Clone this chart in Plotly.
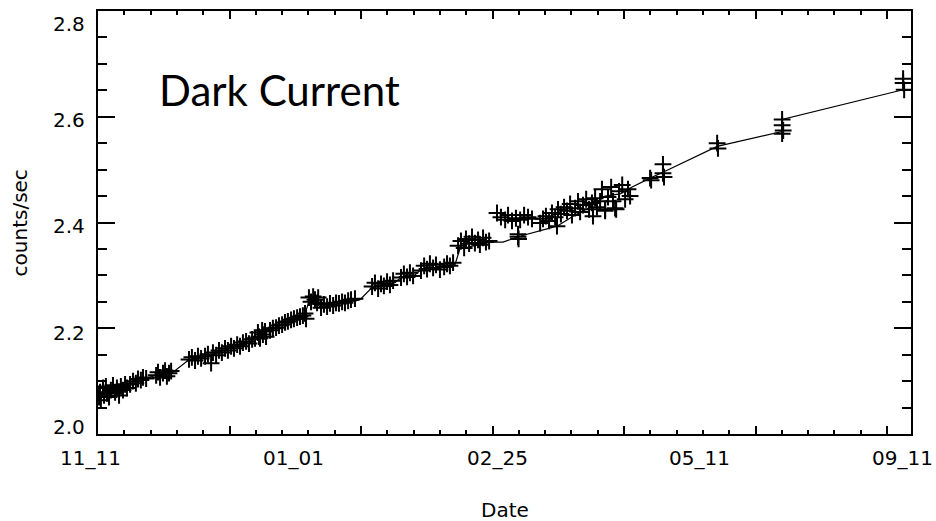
import plotly.graph_objects as go

# ---- data (x: time index along the date axis, y: counts/sec) ----
meas_x = [
    0.4, 0.8, 1.1, 1.9, 2.3, 3.0, 3.4, 4.2, 4.9, 5.7, 6.5, 7.2, 8.0, 8.7, 9.5, 10.3, 11.0,
    12.2, 13.3, 14.4, 15.2, 16.3, 17.1, 18.3,
    22.1, 22.8, 23.6, 24.7, 25.5, 26.2, 27.0, 27.8,
    34.6, 35.7, 36.9, 38.0, 39.2,
    40.7, 41.8, 43.0, 43.7, 44.9, 46.0, 47.1, 48.3, 49.4, 50.6, 51.7, 52.9, 54.0, 55.1, 56.3, 57.4, 58.6, 59.7,
    60.8, 61.2, 61.6, 62.4, 62.7, 63.5, 63.9,
    65.4, 66.5, 67.7, 68.8, 70.0, 71.1, 72.2, 73.4, 74.5, 75.7, 76.8, 77.9, 78.7, 79.1,
    80.2, 81.0, 81.8, 82.5, 83.3, 83.7,
    84.8, 85.9, 87.1, 88.2, 89.4, 90.5, 91.6, 92.8, 93.9, 95.1, 96.2, 97.7,
    104.2, 105.3, 106.5, 107.6, 108.7, 109.9, 111.0, 112.2,
    115.2, 116.3, 117.5, 118.6, 119.8,
    122.8, 124.0, 125.1, 126.2, 127.4, 128.5, 130.0, 131.6, 132.7, 133.8, 135.0,
    136.9, 138.0, 139.2, 139.9, 141.1, 142.2, 143.3, 144.5, 145.2, 146.4, 147.5, 148.7,
    151.7, 153.2, 154.8, 155.9, 157.4, 158.9, 160.5, 162.0, 163.5, 165.0,
    159.7, 159.7, 159.9,
    168.1, 169.2, 170.3, 171.5, 172.6, 173.8, 174.5, 174.9, 176.0, 177.2, 178.3, 179.5, 180.2,
    181.4, 182.5, 183.3, 184.4, 185.6, 186.7, 187.8, 189.0, 189.7, 190.9, 188.2, 192.8, 196.6,
    191.6, 192.8, 193.9, 195.1, 195.8, 197.0, 198.1, 199.3, 200.4, 201.5, 202.3,
    209.9, 210.3,
    214.8, 214.8, 215.2,
    235.4, 235.7,
    260.1, 260.1, 260.5, 260.1,
    306.1, 306.1, 306.5,
]
meas_y = [
    2.070, 2.079, 2.064, 2.087, 2.073, 2.090, 2.077, 2.070, 2.083, 2.092, 2.079, 2.087, 2.073, 2.090, 2.083, 2.094, 2.087,
    2.094, 2.100, 2.096, 2.104, 2.102, 2.107, 2.105,
    2.111, 2.117, 2.107, 2.115, 2.120, 2.109, 2.115, 2.119,
    2.141, 2.145, 2.139, 2.147, 2.143,
    2.147, 2.151, 2.134, 2.154, 2.149, 2.158, 2.154, 2.162, 2.158, 2.166, 2.162, 2.169, 2.166, 2.173, 2.175, 2.171, 2.179, 2.181,
    2.192, 2.184, 2.181, 2.196, 2.188, 2.194, 2.184,
    2.196, 2.200, 2.201, 2.205, 2.207, 2.211, 2.213, 2.216, 2.218, 2.220, 2.222, 2.224, 2.228, 2.218,
    2.258, 2.250, 2.260, 2.254, 2.248, 2.258,
    2.239, 2.245, 2.241, 2.247, 2.243, 2.248, 2.247, 2.250, 2.248, 2.252, 2.254, 2.256,
    2.279, 2.286, 2.275, 2.284, 2.280, 2.288, 2.282, 2.290,
    2.296, 2.303, 2.297, 2.305, 2.299,
    2.309, 2.318, 2.312, 2.322, 2.314, 2.320, 2.311, 2.316, 2.322, 2.318, 2.324,
    2.356, 2.365, 2.352, 2.369, 2.360, 2.373, 2.361, 2.367, 2.358, 2.371, 2.363, 2.365,
    2.418, 2.410, 2.405, 2.414, 2.403, 2.408, 2.405, 2.414, 2.410, 2.407,
    2.378, 2.373, 2.369,
    2.399, 2.407, 2.412, 2.403, 2.418, 2.410, 2.393, 2.425, 2.416, 2.429, 2.422, 2.435, 2.414,
    2.427, 2.440, 2.420, 2.433, 2.444, 2.425, 2.437, 2.446, 2.429, 2.440, 2.412, 2.422, 2.427,
    2.463, 2.425, 2.448, 2.467, 2.440, 2.425, 2.459, 2.471, 2.444, 2.463, 2.450,
    2.484, 2.480,
    2.510, 2.493, 2.486,
    2.550, 2.540,
    2.595, 2.584, 2.574, 2.568,
    2.672, 2.664, 2.651,
]

trend_x = [0.4, 4.6, 11.0, 18.6, 21.7, 28.5, 34.2, 39.9, 50.2, 59.7, 61.6, 78.7, 80.2, 83.7, 84.8,
           99.6, 104.2, 112.9, 115.2, 120.5, 122.8, 135.7, 137.6, 149.1, 154.0, 159.7, 174.5,
           181.4, 187.1, 192.8, 198.5, 203.1, 209.9, 214.8, 235.4, 260.1, 260.1, 306.1]
trend_y = [2.075, 2.083, 2.090, 2.104, 2.111, 2.117, 2.139, 2.145, 2.162, 2.179, 2.188, 2.226, 2.252, 2.252, 2.241,
           2.254, 2.277, 2.286, 2.296, 2.301, 2.311, 2.320, 2.350, 2.363, 2.363, 2.373, 2.393,
           2.414, 2.429, 2.450, 2.454, 2.467, 2.484, 2.495, 2.544, 2.572, 2.595, 2.651]

x_tick_labels = ["11_11", "01_01", "02_25", "05_11", "09_11"]
y_tick_labels = ["2.0", "2.2", "2.4", "2.6", "2.8"]

# ---- layout helpers (label placement) ----
X_RANGE = [0, 309.1]
x_label_pos = [-3.0, 74.5, 151.7, 228.5, 305.7]
y_label_pos = [2.014, 2.191, 2.393, 2.593, 2.775]

FONT_FAMILY = "DejaVu Sans, Verdana, sans-serif"
LABEL_FONT = dict(family=FONT_FAMILY, size=20, color="black")

fig = go.Figure()
fig.add_trace(go.Scatter(
    x=trend_x, y=trend_y, mode="lines",
    line=dict(color="black", width=1.2), hoverinfo="skip", showlegend=False,
))
fig.add_trace(go.Scatter(
    x=meas_x, y=meas_y, mode="markers",
    marker=dict(symbol="cross-thin", size=12, line=dict(color="black", width=2)),
    showlegend=False,
))

annotations = []
span = X_RANGE[1] - X_RANGE[0]
for lab, xp in zip(x_tick_labels, x_label_pos):
    annotations.append(dict(x=(xp - X_RANGE[0]) / span, xref="paper", y=-0.0565, yref="paper", text=lab,
                            showarrow=False, xanchor="center", yanchor="middle", font=LABEL_FONT))
for lab, yp in zip(y_tick_labels, y_label_pos):
    annotations.append(dict(x=-0.0135, xref="paper", y=yp, yref="y", text=lab,
                            showarrow=False, xanchor="right", yanchor="middle", font=LABEL_FONT))
annotations.append(dict(x=-0.096, xref="paper", y=0.50, yref="paper", text="counts/sec",
                        textangle=-90, showarrow=False, xanchor="center", yanchor="middle",
                        font=dict(family=FONT_FAMILY, size=20, color="black")))
annotations.append(dict(x=0.5, xref="paper", y=-0.179, yref="paper", text="Date",
                        showarrow=False, xanchor="center", yanchor="middle",
                        font=dict(family=FONT_FAMILY, size=20, color="black")))
annotations.append(dict(x=0.0726, xref="paper", y=0.814, yref="paper", text="Dark Current",
                        showarrow=False, xanchor="left", yanchor="middle",
                        font=dict(family="Lato, Noto Sans, sans-serif", size=42, color="black")))

fig.update_layout(
    width=936, height=521,
    margin=dict(l=98, r=25, t=9, b=87),
    paper_bgcolor="white", plot_bgcolor="white",
    annotations=annotations,
    xaxis=dict(range=X_RANGE, showgrid=False, zeroline=False, showticklabels=False,
               showline=True, linecolor="black", linewidth=1.6, mirror="ticks",
               ticks="inside", tick0=0, dtick=50, ticklen=8, tickwidth=1.5, tickcolor="black",
               minor=dict(ticks="inside", dtick=10, ticklen=4, tickwidth=1.5, tickcolor="black", showgrid=False)),
    yaxis=dict(range=[2.0, 2.8], showgrid=False, zeroline=False, showticklabels=False,
               showline=True, linecolor="black", linewidth=1.6, mirror="ticks",
               ticks="inside", tick0=2.0, dtick=0.2, ticklen=17, tickwidth=1.5, tickcolor="black",
               minor=dict(ticks="inside", dtick=0.05, ticklen=9, tickwidth=1.5, tickcolor="black", showgrid=False)),
)

fig.write_html("out.html", config={"displayModeBar": False},
               post_script="document.body.style.margin='0px';document.body.style.overflow='hidden';")
